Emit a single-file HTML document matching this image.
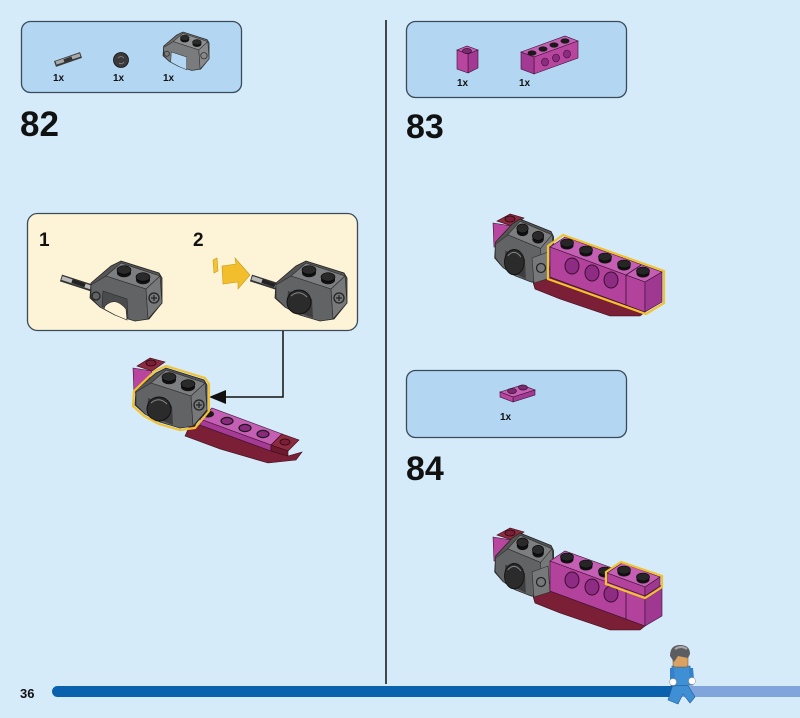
<!DOCTYPE html>
<html><head><meta charset="utf-8"><style>
html,body{margin:0;padding:0;background:#d5ebfa;}
svg{display:block}
text{font-family:"Liberation Sans",sans-serif;font-weight:bold;fill:#111}
</style></head><body>
<svg width="800" height="718" viewBox="0 0 800 718" xmlns="http://www.w3.org/2000/svg">
<rect width="800" height="718" fill="#d5ebfa"/>
<line x1="386" y1="20" x2="386" y2="684" stroke="#111" stroke-width="1.5"/>

<!-- parts boxes -->
<rect x="21.5" y="21.5" width="220" height="71" rx="9" fill="#b3d7f2" stroke="#3b4a58" stroke-width="1.3"/>
<rect x="406.5" y="21.5" width="220" height="76" rx="9" fill="#b3d7f2" stroke="#3b4a58" stroke-width="1.3"/>
<rect x="406.5" y="370.5" width="220" height="67" rx="9" fill="#b3d7f2" stroke="#3b4a58" stroke-width="1.3"/>

<text x="20" y="136" font-size="35">82</text>
<text x="406" y="138" font-size="34">83</text>
<text x="406" y="480" font-size="34">84</text>

<!-- box 82 parts -->
<line x1="55" y1="64" x2="81" y2="55" stroke="#3a3a3a" stroke-width="6"/>
<line x1="56" y1="63" x2="80" y2="55" stroke="#a8a8a8" stroke-width="3.5"/>
<line x1="64" y1="61" x2="72" y2="58" stroke="#333" stroke-width="3.5"/>
<circle cx="121" cy="60" r="7.5" fill="#3a3a3c" stroke="#111" stroke-width="0.8"/>
<path d="M118 58 q3 -3 6 0 M119 63 q3 2 5 -1" stroke="#888" fill="none" stroke-width="0.8"/>
<g transform="translate(163,32) scale(0.64) translate(-275,-261)">
<polygon points="276,283 296,266 306,261 344,273 347,278 347,303 334,319 320,321 300,315 285,307 275,298" fill="#6c6d6f" stroke="#222" stroke-width="1"/>
<polygon points="291,276 306,263 345,276 331,289" fill="#8e8f91" stroke="#2a2a2a" stroke-width="0.8"/>
<polygon points="291,276 331,289 333,319 320,321 300,315 285,307 276,298 276,285" fill="#7a7b7d" stroke="#2a2a2a" stroke-width="0.8"/>
<polygon points="331,289 345,276 347,303 333,319" fill="#88898b" stroke="#2a2a2a" stroke-width="0.8"/>
<path d="M288 292 L312 300 L312 320 L300 315 L287 308 Z" fill="#b3d7f2" stroke="#333" stroke-width="0.8"/>
<circle cx="339" cy="298" r="5" fill="none" stroke="#333" stroke-width="1.3"/>
<circle cx="281" cy="295" r="4" fill="none" stroke="#333" stroke-width="1.3"/>
<ellipse cx="309" cy="273" rx="7" ry="4.3" fill="#111"/>
<ellipse cx="309" cy="270" rx="7" ry="4.3" fill="#2a2a2a" stroke="#000" stroke-width="0.6"/>
<ellipse cx="328" cy="280" rx="7" ry="4.3" fill="#111"/>
<ellipse cx="328" cy="277" rx="7" ry="4.3" fill="#2a2a2a" stroke="#000" stroke-width="0.6"/>
</g>
<text x="53" y="81" font-size="10">1x</text>
<text x="113" y="81" font-size="10">1x</text>
<text x="163" y="81" font-size="10">1x</text>

<!-- box 83 parts -->
<polygon points="457,50 467,46 478,50 468,54" fill="#c55fb4" stroke="#3a1030" stroke-width="0.6"/>
<polygon points="468,54 478,50 478,68 468,73" fill="#a23a93" stroke="#3a1030" stroke-width="0.6"/>
<polygon points="457,50 468,54 468,73 457,69" fill="#b8469f" stroke="#3a1030" stroke-width="0.6"/>
<ellipse cx="467" cy="51" rx="4.5" ry="2.6" fill="#7a2a6e" stroke="#2a0a20" stroke-width="0.6"/>
<polygon points="521,52 565,36 578,41 534,57" fill="#c55fb4" stroke="#3a1030" stroke-width="0.6"/>
<polygon points="534,57 578,41 578,58 534,74" fill="#b8469f" stroke="#3a1030" stroke-width="0.6"/>
<polygon points="521,52 534,57 534,74 521,69" fill="#a23a93" stroke="#3a1030" stroke-width="0.6"/>
<ellipse cx="545" cy="62" rx="3.5" ry="4" fill="#8c2c80" stroke="#3a1030" stroke-width="0.6"/>
<ellipse cx="556" cy="58" rx="3.5" ry="4" fill="#8c2c80" stroke="#3a1030" stroke-width="0.6"/>
<ellipse cx="567" cy="54" rx="3.5" ry="4" fill="#8c2c80" stroke="#3a1030" stroke-width="0.6"/>
<ellipse cx="532" cy="53" rx="4.5" ry="2.6" fill="#1a1a1a"/>
<ellipse cx="543" cy="49" rx="4.5" ry="2.6" fill="#1a1a1a"/>
<ellipse cx="554" cy="45" rx="4.5" ry="2.6" fill="#1a1a1a"/>
<ellipse cx="565" cy="41" rx="4.5" ry="2.6" fill="#1a1a1a"/>
<text x="457" y="86" font-size="10">1x</text>
<text x="519" y="86" font-size="10">1x</text>

<!-- box 84 part -->
<polygon points="500,392 522,385 535,390 513,397" fill="#c55fb4" stroke="#3a1030" stroke-width="0.6"/>
<polygon points="513,397 535,390 535,395 513,402" fill="#a23a93" stroke="#3a1030" stroke-width="0.6"/>
<polygon points="500,392 513,397 513,402 500,397" fill="#b8469f" stroke="#3a1030" stroke-width="0.6"/>
<ellipse cx="512" cy="391" rx="4.5" ry="2.6" fill="#7a2a6e" stroke="#2a0a20" stroke-width="0.6"/>
<ellipse cx="523" cy="387.5" rx="4.5" ry="2.6" fill="#7a2a6e" stroke="#2a0a20" stroke-width="0.6"/>
<text x="500" y="420" font-size="10">1x</text>

<!-- substep box -->
<rect x="27.5" y="213.5" width="330" height="117" rx="10" fill="#fdf3d6" stroke="#3b4a58" stroke-width="1.3"/>
<text x="39" y="246" font-size="19">1</text>
<text x="193" y="246" font-size="19">2</text>

<!-- substep 1 -->
<line x1="61" y1="278" x2="95" y2="289" stroke="#333" stroke-width="7"/>
<line x1="62" y1="278" x2="94" y2="288.5" stroke="#b8b8b8" stroke-width="4"/>
<line x1="72" y1="281" x2="85" y2="285.5" stroke="#222" stroke-width="4"/>
<g transform="translate(-185,0)">
<polygon points="276,283 296,266 306,261 344,273 347,278 347,303 334,319 320,321 300,315 285,307 275,298" fill="#555" stroke="#222" stroke-width="0.8"/>
<polygon points="291,276 306,263 345,276 331,289" fill="#7d7e80" stroke="#2a2a2a" stroke-width="0.6"/>
<polygon points="291,276 331,289 333,319 320,321 300,315 285,307 276,298 276,285" fill="#626365" stroke="#2a2a2a" stroke-width="0.6"/>
<polygon points="331,289 345,276 347,303 333,319" fill="#77787a" stroke="#2a2a2a" stroke-width="0.6"/>
<path d="M288 291 L312 299 L313 318 L300 313 L287 306 Z" fill="#4a4b4d" stroke="#2a2a2a" stroke-width="0.6"/>
<path d="M290 306 Q300 296 311 309 L312 320 L300 315 L289 309Z" fill="#fdf3d6" stroke="#2a2a2a" stroke-width="0.6"/>
<circle cx="339" cy="298" r="5" fill="none" stroke="#222" stroke-width="1.3"/>
<path d="M336 298 h6 M339 295 v6" stroke="#222" stroke-width="1.2"/>
<circle cx="281" cy="296" r="4" fill="none" stroke="#222" stroke-width="1.2"/>
<ellipse cx="309" cy="273" rx="7" ry="4.3" fill="#111"/>
<ellipse cx="309" cy="270" rx="7" ry="4.3" fill="#2a2a2a" stroke="#000" stroke-width="0.6"/>
<ellipse cx="328" cy="280" rx="7" ry="4.3" fill="#111"/>
<ellipse cx="328" cy="277" rx="7" ry="4.3" fill="#2a2a2a" stroke="#000" stroke-width="0.6"/>
</g>

<!-- substep 2 -->
<polygon points="213,260 217,258 218,271 214,273" fill="#f4c232" stroke="#c79a1a" stroke-width="0.6"/>
<polygon points="222,266 236,264 235,258 250,275 238,289 238,282 223,284" fill="#f3be2c" stroke="#c79a1a" stroke-width="0.6"/>
<line x1="251" y1="278" x2="282" y2="288" stroke="#333" stroke-width="7"/>
<line x1="252" y1="278" x2="281" y2="287.5" stroke="#b8b8b8" stroke-width="4"/>
<line x1="262" y1="281" x2="275" y2="285.5" stroke="#222" stroke-width="4"/>
<g>
<polygon points="276,283 296,266 306,261 344,273 347,278 347,303 334,319 320,321 300,315 285,307 275,298" fill="#555" stroke="#222" stroke-width="0.8"/>
<polygon points="291,276 306,263 345,276 331,289" fill="#7d7e80" stroke="#2a2a2a" stroke-width="0.6"/>
<polygon points="291,276 331,289 333,319 320,321 300,315 285,307 276,298 276,285" fill="#626365" stroke="#2a2a2a" stroke-width="0.6"/>
<polygon points="331,289 345,276 347,303 333,319" fill="#77787a" stroke="#2a2a2a" stroke-width="0.6"/>
<path d="M288 291 L312 299 L313 318 L300 313 L287 306 Z" fill="#3d3d3f"/>
<circle cx="299" cy="302" r="12" fill="#2b2b2b" stroke="#111"/>
<path d="M291 296 Q299 289 307 297" stroke="#888" fill="none" stroke-width="1"/>
<circle cx="339" cy="298" r="5" fill="none" stroke="#222" stroke-width="1.3"/>
<path d="M336 298 h6 M339 295 v6" stroke="#222" stroke-width="1.2"/>
<ellipse cx="309" cy="273" rx="7" ry="4.3" fill="#111"/>
<ellipse cx="309" cy="270" rx="7" ry="4.3" fill="#2a2a2a" stroke="#000" stroke-width="0.6"/>
<ellipse cx="328" cy="280" rx="7" ry="4.3" fill="#111"/>
<ellipse cx="328" cy="277" rx="7" ry="4.3" fill="#2a2a2a" stroke="#000" stroke-width="0.6"/>
</g>

<!-- connector -->
<path d="M283 331 V397 H222" fill="none" stroke="#111" stroke-width="1.5"/>
<polygon points="209,397 226,390 226,404" fill="#111"/>

<!-- model 82 -->
<polygon points="190,425 200,425 271,451 288,456 302,452 296,460 268,463 220,449 185,436" fill="#7a1f35" stroke="#3a0a15" stroke-width="0.6"/>
<polygon points="200,419 212,408 282,434 271,445" fill="#c55fb4" stroke="#3a1030" stroke-width="0.6"/>
<polygon points="200,419 271,445 271,451 200,425" fill="#a63b96" stroke="#3a1030" stroke-width="0.6"/>
<polygon points="271,445 282,434 299,440 288,451" fill="#8c2a40" stroke="#3a0a15" stroke-width="0.6"/>
<polygon points="271,445 288,451 288,456 271,451" fill="#6e1a2e" stroke="#3a0a15" stroke-width="0.6"/>
<ellipse cx="285" cy="442" rx="5" ry="3" fill="#7a1f35" stroke="#2a0810" stroke-width="0.8"/>
<ellipse cx="208" cy="414" rx="6" ry="3.6" fill="#1a1a1a"/>
<ellipse cx="227" cy="421" rx="6" ry="3.6" fill="#8a2a7e" stroke="#1a1a1a" stroke-width="1.2"/>
<ellipse cx="245" cy="428" rx="6" ry="3.6" fill="#8a2a7e" stroke="#1a1a1a" stroke-width="1.2"/>
<ellipse cx="263" cy="434" rx="6" ry="3.6" fill="#8a2a7e" stroke="#1a1a1a" stroke-width="1.2"/>
<polygon points="137,366 150,358 165,362 152,371" fill="#8c2a40" stroke="#3a0a15" stroke-width="0.6"/>
<ellipse cx="151" cy="363" rx="5" ry="3" fill="#7a1f35" stroke="#2a0810" stroke-width="0.8"/>
<polygon points="133,368 152,371 145,392 134,393" fill="#b8469f" stroke="#3a1030" stroke-width="0.6"/>
<g transform="translate(-140,107)">
<polygon points="276,283 296,266 306,261 344,273 347,278 347,303 334,319 320,321 300,315 285,307 275,298" fill="#555" stroke="#222" stroke-width="0.8"/>
<polygon points="291,276 306,263 345,276 331,289" fill="#7d7e80" stroke="#2a2a2a" stroke-width="0.6"/>
<polygon points="291,276 331,289 333,319 320,321 300,315 285,307 276,298 276,285" fill="#626365" stroke="#2a2a2a" stroke-width="0.6"/>
<polygon points="331,289 345,276 347,303 333,319" fill="#77787a" stroke="#2a2a2a" stroke-width="0.6"/>
<path d="M288 291 L312 299 L313 318 L300 313 L287 306 Z" fill="#3d3d3f"/>
<circle cx="299" cy="302" r="12" fill="#2b2b2b" stroke="#111"/>
<path d="M291 296 Q299 289 307 297" stroke="#888" fill="none" stroke-width="1"/>
<circle cx="339" cy="298" r="5" fill="none" stroke="#222" stroke-width="1.3"/>
<path d="M336 298 h6 M339 295 v6" stroke="#222" stroke-width="1.2"/>
<ellipse cx="309" cy="273" rx="7" ry="4.3" fill="#111"/>
<ellipse cx="309" cy="270" rx="7" ry="4.3" fill="#2a2a2a" stroke="#000" stroke-width="0.6"/>
<ellipse cx="328" cy="280" rx="7" ry="4.3" fill="#111"/>
<ellipse cx="328" cy="277" rx="7" ry="4.3" fill="#2a2a2a" stroke="#000" stroke-width="0.6"/>
<polygon points="274,284 295,264 306,259 345,271 349,277 349,304 335,321 320,323 299,317 284,309 273,299" fill="none" stroke="#f2c22f" stroke-width="2.2"/>
</g>

<!-- model 83 -->
<g>
<polygon points="530,272 550,277 645,312 640,316 610,316 560,299 535,289" fill="#7a1f35" stroke="#3a0a15" stroke-width="0.6"/>
<polygon points="497,221 510,214 524,218 512,226" fill="#8c2a40" stroke="#3a0a15" stroke-width="0.6"/>
<ellipse cx="510" cy="219" rx="5" ry="3" fill="#7a1f35" stroke="#2a0810" stroke-width="0.8"/>
<polygon points="493,223 512,226 507,246 494,247" fill="#b8469f" stroke="#3a1030" stroke-width="0.6"/>
<g transform="translate(493,218) scale(0.82,1.05) translate(-273,-260)">
<polygon points="276,283 296,266 306,261 344,273 347,278 347,303 334,319 320,321 300,315 285,307 275,298" fill="#555" stroke="#222" stroke-width="0.8"/>
<polygon points="291,276 306,263 345,276 331,289" fill="#7d7e80" stroke="#2a2a2a" stroke-width="0.6"/>
<polygon points="291,276 331,289 333,319 320,321 300,315 285,307 276,298 276,285" fill="#626365" stroke="#2a2a2a" stroke-width="0.6"/>
<polygon points="331,289 345,276 347,303 333,319" fill="#77787a" stroke="#2a2a2a" stroke-width="0.6"/>
<path d="M288 291 L312 299 L313 318 L300 313 L287 306 Z" fill="#3d3d3f"/>
<circle cx="299" cy="302" r="12" fill="#2b2b2b" stroke="#111"/>
<path d="M291 296 Q299 289 307 297" stroke="#888" fill="none" stroke-width="1"/>
<ellipse cx="309" cy="273" rx="7" ry="4.3" fill="#111"/>
<ellipse cx="309" cy="270" rx="7" ry="4.3" fill="#2a2a2a" stroke="#000" stroke-width="0.6"/>
<ellipse cx="328" cy="280" rx="7" ry="4.3" fill="#111"/>
<ellipse cx="328" cy="277" rx="7" ry="4.3" fill="#2a2a2a" stroke="#000" stroke-width="0.6"/>
</g>
<polygon points="532,258 548,252 550,278 534,283" fill="#77787a" stroke="#2a2a2a" stroke-width="0.6"/>
<circle cx="541" cy="268" r="4.5" fill="none" stroke="#222" stroke-width="1.2"/>
<polygon points="550,247 565,237 662,272 645,282" fill="#c55fb4" stroke="#3a1030" stroke-width="0.6"/>
<polygon points="550,247 645,282 645,312 550,277" fill="#b3429d" stroke="#3a1030" stroke-width="0.6"/>
<polygon points="645,282 662,272 662,302 645,312" fill="#9f3890" stroke="#3a1030" stroke-width="0.6"/>
<line x1="626" y1="275" x2="626" y2="305" stroke="#3a1030" stroke-width="0.8"/>
<line x1="626" y1="275" x2="641" y2="265" stroke="#3a1030" stroke-width="0.8"/>
<ellipse cx="572" cy="266" rx="7" ry="8" fill="#8d2c82" stroke="#3a1030" stroke-width="1"/>
<ellipse cx="592" cy="273" rx="7" ry="8" fill="#8d2c82" stroke="#3a1030" stroke-width="1"/>
<ellipse cx="611" cy="280" rx="7" ry="8" fill="#8d2c82" stroke="#3a1030" stroke-width="1"/>
<ellipse cx="567" cy="245.5" rx="6.5" ry="4" fill="#111"/><ellipse cx="567" cy="243" rx="6.5" ry="4" fill="#262626" stroke="#000" stroke-width="0.6"/>
<ellipse cx="586" cy="252.5" rx="6.5" ry="4" fill="#111"/><ellipse cx="586" cy="250" rx="6.5" ry="4" fill="#262626" stroke="#000" stroke-width="0.6"/>
<ellipse cx="605" cy="259.5" rx="6.5" ry="4" fill="#111"/><ellipse cx="605" cy="257" rx="6.5" ry="4" fill="#262626" stroke="#000" stroke-width="0.6"/>
<ellipse cx="624" cy="266.5" rx="6.5" ry="4" fill="#111"/><ellipse cx="624" cy="264" rx="6.5" ry="4" fill="#262626" stroke="#000" stroke-width="0.6"/>
<ellipse cx="643" cy="273.5" rx="6.5" ry="4" fill="#111"/><ellipse cx="643" cy="271" rx="6.5" ry="4" fill="#262626" stroke="#000" stroke-width="0.6"/>
<polygon points="548,246 563,235 664,271 664,303 646,314 548,279" fill="none" stroke="#f2c230" stroke-width="2.2"/>
</g>

<!-- model 84 -->
<g transform="translate(0,314)">
<polygon points="530,272 550,277 645,312 640,316 610,316 560,299 535,289" fill="#7a1f35" stroke="#3a0a15" stroke-width="0.6"/>
<polygon points="497,221 510,214 524,218 512,226" fill="#8c2a40" stroke="#3a0a15" stroke-width="0.6"/>
<ellipse cx="510" cy="219" rx="5" ry="3" fill="#7a1f35" stroke="#2a0810" stroke-width="0.8"/>
<polygon points="493,223 512,226 507,246 494,247" fill="#b8469f" stroke="#3a1030" stroke-width="0.6"/>
<g transform="translate(493,218) scale(0.82,1.05) translate(-273,-260)">
<polygon points="276,283 296,266 306,261 344,273 347,278 347,303 334,319 320,321 300,315 285,307 275,298" fill="#555" stroke="#222" stroke-width="0.8"/>
<polygon points="291,276 306,263 345,276 331,289" fill="#7d7e80" stroke="#2a2a2a" stroke-width="0.6"/>
<polygon points="291,276 331,289 333,319 320,321 300,315 285,307 276,298 276,285" fill="#626365" stroke="#2a2a2a" stroke-width="0.6"/>
<polygon points="331,289 345,276 347,303 333,319" fill="#77787a" stroke="#2a2a2a" stroke-width="0.6"/>
<path d="M288 291 L312 299 L313 318 L300 313 L287 306 Z" fill="#3d3d3f"/>
<circle cx="299" cy="302" r="12" fill="#2b2b2b" stroke="#111"/>
<path d="M291 296 Q299 289 307 297" stroke="#888" fill="none" stroke-width="1"/>
<ellipse cx="309" cy="273" rx="7" ry="4.3" fill="#111"/>
<ellipse cx="309" cy="270" rx="7" ry="4.3" fill="#2a2a2a" stroke="#000" stroke-width="0.6"/>
<ellipse cx="328" cy="280" rx="7" ry="4.3" fill="#111"/>
<ellipse cx="328" cy="277" rx="7" ry="4.3" fill="#2a2a2a" stroke="#000" stroke-width="0.6"/>
</g>
<polygon points="532,258 548,252 550,278 534,283" fill="#77787a" stroke="#2a2a2a" stroke-width="0.6"/>
<circle cx="541" cy="268" r="4.5" fill="none" stroke="#222" stroke-width="1.2"/>
<polygon points="550,247 565,237 662,272 645,282" fill="#c55fb4" stroke="#3a1030" stroke-width="0.6"/>
<polygon points="550,247 645,282 645,312 550,277" fill="#b3429d" stroke="#3a1030" stroke-width="0.6"/>
<polygon points="645,282 662,272 662,302 645,312" fill="#9f3890" stroke="#3a1030" stroke-width="0.6"/>
<line x1="626" y1="275" x2="626" y2="305" stroke="#3a1030" stroke-width="0.8"/>
<ellipse cx="572" cy="266" rx="7" ry="8" fill="#8d2c82" stroke="#3a1030" stroke-width="1"/>
<ellipse cx="592" cy="273" rx="7" ry="8" fill="#8d2c82" stroke="#3a1030" stroke-width="1"/>
<ellipse cx="611" cy="280" rx="7" ry="8" fill="#8d2c82" stroke="#3a1030" stroke-width="1"/>
<ellipse cx="567" cy="245.5" rx="6.5" ry="4" fill="#111"/><ellipse cx="567" cy="243" rx="6.5" ry="4" fill="#262626" stroke="#000" stroke-width="0.6"/>
<ellipse cx="586" cy="252.5" rx="6.5" ry="4" fill="#111"/><ellipse cx="586" cy="250" rx="6.5" ry="4" fill="#262626" stroke="#000" stroke-width="0.6"/>
<ellipse cx="605" cy="259.5" rx="6.5" ry="4" fill="#111"/><ellipse cx="605" cy="257" rx="6.5" ry="4" fill="#262626" stroke="#000" stroke-width="0.6"/>
<!-- plate -->
<polygon points="607,259 622,249 660,263 645,273" fill="#c55fb4" stroke="#3a1030" stroke-width="0.6"/>
<polygon points="607,259 645,273 645,282 607,268" fill="#b3429d" stroke="#3a1030" stroke-width="0.6"/>
<polygon points="645,273 660,263 660,272 645,282" fill="#9f3890" stroke="#3a1030" stroke-width="0.6"/>
<ellipse cx="624" cy="258.5" rx="6.5" ry="4" fill="#111"/><ellipse cx="624" cy="256" rx="6.5" ry="4" fill="#262626" stroke="#000" stroke-width="0.6"/>
<ellipse cx="643" cy="265.5" rx="6.5" ry="4" fill="#111"/><ellipse cx="643" cy="263" rx="6.5" ry="4" fill="#262626" stroke="#000" stroke-width="0.6"/>
<polygon points="606,258 621,248 662,262 662,273 645,284 606,270" fill="none" stroke="#f2c230" stroke-width="2.2"/>
</g>

<!-- bottom bar -->
<rect x="680" y="686" width="120" height="11" fill="#80a5dc"/>
<path d="M57.5 686 H682 V697 H57.5 A5.5 5.5 0 0 1 57.5 686 Z" fill="#0a62af"/>
<text x="20" y="698" font-size="13">36</text>

<!-- minifig -->
<g>
<polygon points="673,684 687,684 695,697 690,703 683,694 678,704 668,700" fill="#3f8fd4" stroke="#1f5a92" stroke-width="0.6"/>
<polygon points="672,666 690,666 693,685 671,686" fill="#3f8fd4" stroke="#1f5a92" stroke-width="0.6"/>
<polygon points="670,668 674,668 675,680 670,680" fill="#3580c8"/>
<polygon points="689,668 693,668 694,679 690,679" fill="#3580c8"/>
<circle cx="673" cy="682" r="3.5" fill="#fff" stroke="#888" stroke-width="0.5"/>
<circle cx="692" cy="681" r="3.5" fill="#fff" stroke="#888" stroke-width="0.5"/>
<rect x="673" y="655" width="15" height="12" rx="2" fill="#d9a262" stroke="#6a4a20" stroke-width="0.5"/>
<path d="M670 656 Q670 645 680 645 Q690 645 690 654 L688 658 L678 656 L674 662 Z" fill="#5c5d60"/>
<path d="M675 649 Q681 645 687 649" stroke="#a8a8a8" stroke-width="2" fill="none"/>
</g>
</svg>
</body></html>
